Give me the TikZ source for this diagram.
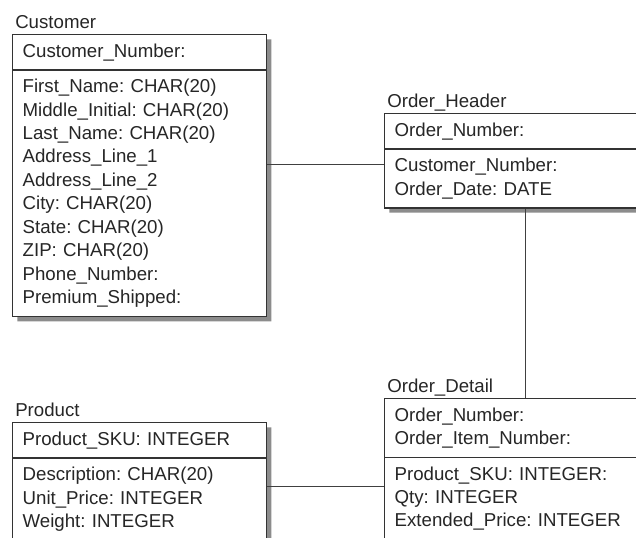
\documentclass[tikz,border=0pt]{standalone}
\usepackage{fontspec}
\setmainfont{Liberation Sans}
\usetikzlibrary{shapes.multipart, shadows, positioning}

\newcommand{\tablefont}{\frenchspacing\fontsize{14}{17.6}\selectfont}

\tikzset{
    entity/.style={rectangle split, rectangle split parts=2, anchor=north west,
        draw=black!80, line width=1pt, fill=white, text=black!85, font=\tablefont,
        align=left, inner xsep=7.5pt, inner ysep=4pt,
        drop shadow={shadow xshift=3.5pt, shadow yshift=-3.5pt, fill=black!45, opacity=1}},
    tablename/.style={anchor=base west, inner sep=0pt, text=black!85, font=\tablefont},
    link/.style={draw=black!75, line width=0.9pt}
}

\begin{document}
\begin{tikzpicture}[x=0.75pt, y=-0.75pt]
    % Page size of the reference
    \useasboundingbox (0,0) rectangle (636,537);
    \clip (0,0) rectangle (636,537);

    % Draw the tables
    \node[entity, text width=175.5pt] (Customer) at (12,34)
        {\strut Customer\_Number:\strut
         \nodepart{second}\strut First\_Name: CHAR(20)\\ Middle\_Initial: CHAR(20)\\ Last\_Name: CHAR(20)\\
         Address\_Line\_1\\ Address\_Line\_2\\ City: CHAR(20)\\ State: CHAR(20)\\ ZIP: CHAR(20)\\
         Phone\_Number:\\ Premium\_Shipped:\strut};
    \node[entity, text width=196.5pt] (OrderHeader) at (384,113)
        {\strut Order\_Number:\strut
         \nodepart{second}\strut Customer\_Number:\\ Order\_Date: DATE\strut};
    \node[entity, text width=196.5pt] (OrderDetail) at (384,398)
        {\strut Order\_Number:\\ Order\_Item\_Number:\strut
         \nodepart{second}\strut Product\_SKU: INTEGER:\\ Qty: INTEGER\\ Extended\_Price: INTEGER\strut};
    \node[entity, text width=175.5pt] (Product) at (12,422)
        {\strut Product\_SKU: INTEGER\strut
         \nodepart{second}\strut Description: CHAR(20)\\ Unit\_Price: INTEGER\\ Weight: INTEGER\rule[-20pt]{0pt}{20pt}};

    % Table names above the boxes
    \foreach \t/\n in {Customer/Customer, OrderHeader/Order\_Header, OrderDetail/Order\_Detail, Product/Product}
        \node[tablename] (\t-name) at ([shift={(3,-6)}]\t.north west) {\n};

    % Relationships
    \draw[link] ([yshift=-3pt]OrderHeader.west) -- ([yshift=-3pt]OrderHeader.west -| Customer.east);
    \draw[link] (OrderHeader.south) -- (OrderDetail.north);
    \draw[link] ([yshift=-13pt]OrderDetail.west) -- ([yshift=-13pt]OrderDetail.west -| Product.east);
\end{tikzpicture}
\end{document}
